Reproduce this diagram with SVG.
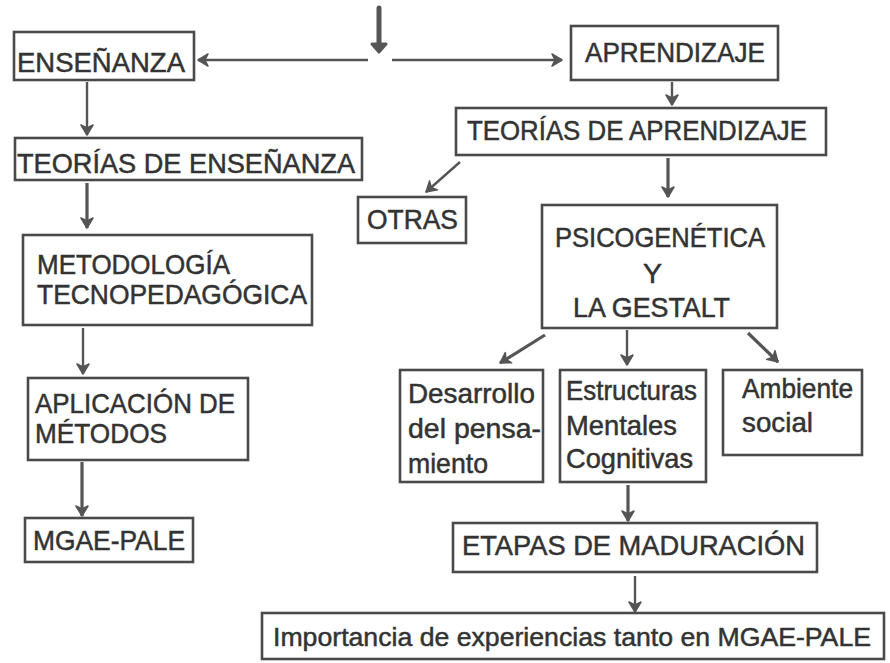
<svg xmlns="http://www.w3.org/2000/svg" width="890" height="663" viewBox="0 0 890 663">
<defs>
<style>
.box{fill:#fff;stroke:#4a4a4a;stroke-width:2.6}
.t{font-family:"Liberation Sans",Arial,sans-serif;font-size:28px;fill:#333;stroke:#333;stroke-width:0.5}
.c{stroke:#555;stroke-width:2.4;fill:none;marker-end:url(#ah)}
.thick{stroke-width:3.2}
</style>
<marker id="ah" markerUnits="userSpaceOnUse" markerWidth="16" markerHeight="16" viewBox="-1 -8 13 16" refX="10" refY="0" orient="auto">
<path d="M0,-6 L10,0 L0,6 L3,0 z" fill="#555" stroke="#555" stroke-width="1.5" stroke-linejoin="round"/>
</marker>
</defs>
<rect width="890" height="663" fill="#fff"/>
<g id="connectors">
<line x1="379" y1="8" x2="379" y2="46" stroke="#555" stroke-width="5" stroke-linecap="round"/>
<path d="M372,44 L386,44 L379,52 z" fill="#555" stroke="#555" stroke-width="3" stroke-linejoin="round"/>
<line class="c" x1="368" y1="60" x2="198" y2="60"/>
<line class="c" x1="392" y1="60" x2="562" y2="60"/>
<line class="c" x1="87" y1="82" x2="87" y2="135"/>
<line class="c thick" x1="87" y1="183" x2="87" y2="228"/>
<line class="c" x1="83" y1="328" x2="83" y2="374"/>
<line class="c thick" x1="82" y1="462" x2="82" y2="516"/>
<line class="c" x1="672" y1="82" x2="672" y2="105"/>
<line class="c" x1="460" y1="162" x2="426" y2="192"/>
<line class="c thick" x1="668" y1="158" x2="668" y2="197"/>
<line class="c thick" x1="545" y1="335" x2="500" y2="363"/>
<line class="c" x1="627" y1="330" x2="627" y2="365"/>
<line class="c thick" x1="748" y1="333" x2="778" y2="362"/>
<line class="c thick" x1="628" y1="485" x2="628" y2="521"/>
<line class="c" x1="635" y1="576" x2="635" y2="612"/>
</g>
<g id="ensenanza">
<rect class="box" x="14" y="32" width="180" height="48"/>
<text class="t" x="17" y="72" textLength="168" lengthAdjust="spacingAndGlyphs">ENSEÑANZA</text>
</g>
<g id="aprendizaje">
<rect class="box" x="571" y="26" width="207" height="54"/>
<text class="t" x="585" y="62" textLength="180" lengthAdjust="spacingAndGlyphs">APRENDIZAJE</text>
</g>
<g id="teorias-ensenanza">
<rect class="box" x="15" y="138" width="347" height="42"/>
<text class="t" x="17" y="173" textLength="338" lengthAdjust="spacingAndGlyphs">TEORÍAS DE ENSEÑANZA</text>
</g>
<g id="teorias-aprendizaje">
<rect class="box" x="456" y="108" width="370" height="47"/>
<text class="t" x="467" y="140" textLength="340" lengthAdjust="spacingAndGlyphs">TEORÍAS DE APRENDIZAJE</text>
</g>
<g id="otras">
<rect class="box" x="358" y="197" width="108" height="46"/>
<text class="t" x="367" y="229" textLength="91" lengthAdjust="spacingAndGlyphs">OTRAS</text>
</g>
<g id="psicogenetica">
<rect class="box" x="542" y="205" width="235" height="123"/>
<text class="t" x="555" y="247" textLength="210" lengthAdjust="spacingAndGlyphs">PSICOGENÉTICA</text>
<text class="t" x="643" y="283" textLength="19" lengthAdjust="spacingAndGlyphs">Y</text>
<text class="t" x="573" y="317" textLength="157" lengthAdjust="spacingAndGlyphs">LA GESTALT</text>
</g>
<g id="metodologia">
<rect class="box" x="23" y="235" width="289" height="90"/>
<text class="t" x="37" y="274" textLength="193" lengthAdjust="spacingAndGlyphs">METODOLOGÍA</text>
<text class="t" x="37" y="304" textLength="270" lengthAdjust="spacingAndGlyphs">TECNOPEDAGÓGICA</text>
</g>
<g id="aplicacion">
<rect class="box" x="28" y="378" width="220" height="82"/>
<text class="t" x="35" y="413" textLength="200" lengthAdjust="spacingAndGlyphs">APLICACIÓN DE</text>
<text class="t" x="35" y="443" textLength="132" lengthAdjust="spacingAndGlyphs">MÉTODOS</text>
</g>
<g id="mgae-pale">
<rect class="box" x="25" y="518" width="168" height="44"/>
<text class="t" x="33" y="550" textLength="152" lengthAdjust="spacingAndGlyphs">MGAE-PALE</text>
</g>
<g id="desarrollo">
<rect class="box" x="400" y="370" width="143" height="112"/>
<text class="t" x="408" y="403" textLength="127" lengthAdjust="spacingAndGlyphs">Desarrollo</text>
<text class="t" x="408" y="438" textLength="133" lengthAdjust="spacingAndGlyphs">del pensa-</text>
<text class="t" x="408" y="473" textLength="80" lengthAdjust="spacingAndGlyphs">miento</text>
</g>
<g id="estructuras">
<rect class="box" x="560" y="370" width="146" height="112"/>
<text class="t" x="566" y="400" textLength="131" lengthAdjust="spacingAndGlyphs">Estructuras</text>
<text class="t" x="566" y="435" textLength="111" lengthAdjust="spacingAndGlyphs">Mentales</text>
<text class="t" x="566" y="468" textLength="127" lengthAdjust="spacingAndGlyphs">Cognitivas</text>
</g>
<g id="ambiente">
<rect class="box" x="723" y="370" width="139" height="85"/>
<text class="t" x="742" y="398" textLength="111" lengthAdjust="spacingAndGlyphs">Ambiente</text>
<text class="t" x="742" y="432" textLength="71" lengthAdjust="spacingAndGlyphs">social</text>
</g>
<g id="etapas">
<rect class="box" x="453" y="523" width="364" height="49"/>
<text class="t" x="462" y="555" textLength="343" lengthAdjust="spacingAndGlyphs">ETAPAS DE MADURACIÓN</text>
</g>
<g id="importancia">
<rect class="box" x="262" y="613" width="622" height="46"/>
<text class="t" x="273" y="646" font-size="26.5" style="font-size:26.5px" textLength="598" lengthAdjust="spacingAndGlyphs">Importancia de experiencias tanto en MGAE-PALE</text>
</g>
</svg>
